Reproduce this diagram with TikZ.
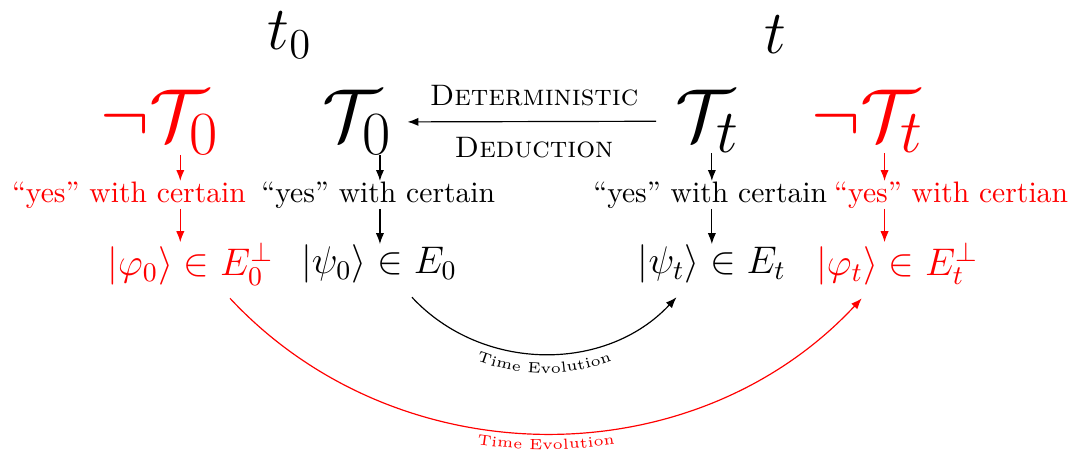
\documentclass[tikz,border=0pt]{standalone}
\usepackage{fix-cm}
\usepackage{amsmath,amssymb,xcolor}
\usetikzlibrary{arrows.meta,decorations.text}

\begin{document}
\begin{tikzpicture}[
  >={Latex[length=1.3mm]},
  edge/.style={->, line width=.4pt},
  theory/.style={font=\Huge, inner sep=0pt, anchor=base},
  answer/.style={font=\normalsize, inner sep=0pt},
  state/.style={font=\fontsize{13}{16}\selectfont, inner sep=0pt},
  instant/.style={font=\huge},
  evolabel/.style={decorate, decoration={text along path, text align=center,
                   text={|\tiny#1|Time Evolution}}},
  evolabel/.default={}
]
\useasboundingbox (0,0) rectangle (12.82,5.353);

% ---------- instants ----------
\node[instant] (tstart) at (3.44,4.94) {$t_0$};
\node[instant] (tend)   at (9.20,4.94) {$t$};

% ---------- theories ----------
\node[theory, red] (nT0) at (1.90,3.69)  {$\neg\mathcal{T}_0$};
\node[theory]      (T0)  at (4.24,3.69)  {$\mathcal{T}_0$};
\node[theory]      (Tt)  at (8.40,3.69)  {$\mathcal{T}_t$};
\node[theory, red] (nTt) at (10.30,3.69) {$\neg\mathcal{T}_t$};

% ---------- answers ----------
\node[answer, red] (yn0) at (1.53,3.04)  {``yes'' with certain};
\node[answer]      (y0)  at (4.49,3.04)  {``yes'' with certain};
\node[answer]      (yt)  at (8.43,3.04)  {``yes'' with certain};
\node[answer, red] (ynt) at (11.29,3.04) {``yes'' with certian};

% ---------- states ----------
\node[state, red] (phi0) at (2.26,2.22)  {$|\varphi_0\rangle \in E_0^{\perp}$};
\node[state]      (psi0) at (4.50,2.22)  {$|\psi_0\rangle \in E_0$};
\node[state]      (psit) at (8.45,2.22)  {$|\psi_t\rangle \in E_t$};
\node[state, red] (phit) at (10.65,2.22) {$|\varphi_t\rangle \in E_t^{\perp}$};

% ---------- deduction ----------
\draw[edge, shorten <=6.5pt, shorten >=5pt] (Tt) -- (T0)
  node[midway, above=1.7pt] {\textsc{Deterministic}}
  node[midway, below=1.7pt] {\textsc{Deduction}};

% ---------- measurement arrows ----------
\foreach \ta/\tb/\tc/\cx/\col [count=\i] in
  {nT0/yn0/phi0/2.14/red, T0/y0/psi0/4.51/black,
   Tt/yt/psit/8.45/black, nTt/ynt/phit/10.50/red} {
  \coordinate (col\i) at (\cx,0);
  \draw[edge, \col] (\ta.south -| col\i) -- (\tb.north -| col\i);
  \draw[edge, \col] (\tb.south -| col\i) -- (\tc.north -| col\i);
}

% ---------- time evolution ----------
\draw[edge] ([xshift=.39cm, yshift=-1.6mm]psi0.south)
  to[bend right=47] ([xshift=-.42cm, yshift=-1.6mm]psit.south);
\path[evolabel] ([xshift=.39cm, yshift=-3.9mm]psi0.south)
  to[bend right=47] ([xshift=-.42cm, yshift=-3.9mm]psit.south);

\draw[edge, red] ([xshift=.47cm, yshift=-1.5mm]phi0.south)
  to[bend right=47] ([xshift=-.42cm, yshift=-1.5mm]phit.south);
\path[evolabel=\color{red}] ([xshift=.47cm, yshift=-3.4mm]phi0.south)
  to[bend right=47] ([xshift=-.42cm, yshift=-3.4mm]phit.south);

\end{tikzpicture}
\end{document}
